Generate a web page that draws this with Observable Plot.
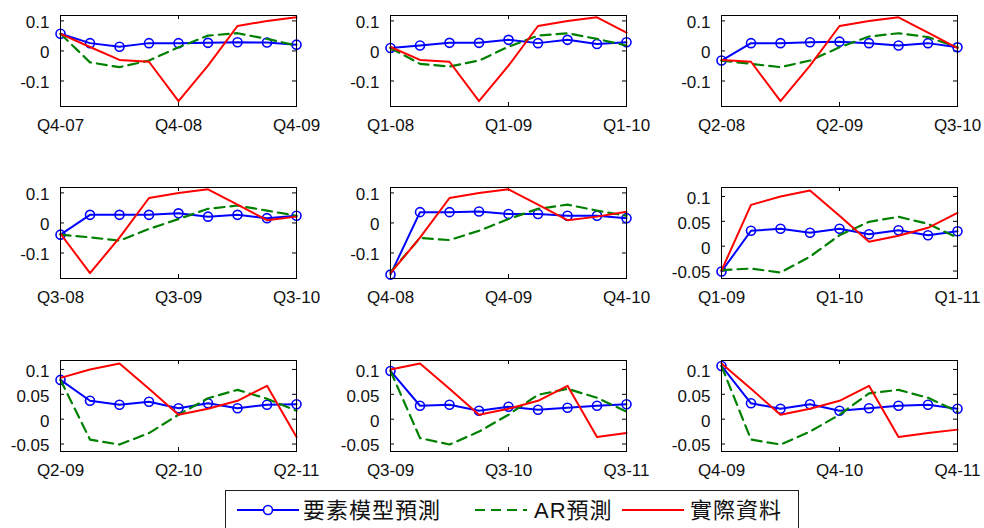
<!DOCTYPE html>
<html><head><meta charset="utf-8">
<script src="https://cdn.jsdelivr.net/npm/d3@7"></script>
<script src="https://cdn.jsdelivr.net/npm/@observablehq/plot@0.6"></script>
<style>
html,body{margin:0;padding:0;background:#fff;}
#chart{position:relative;width:984px;height:528px;overflow:hidden;background:#fff;}
#chart svg{position:absolute;}
</style></head><body><div id="chart"></div>
<script>
// Quarters covered by the actual data series
const quarters = ["Q4-07","Q1-08","Q2-08","Q3-08","Q4-08","Q1-09","Q2-09","Q3-09","Q4-09",
                  "Q1-10","Q2-10","Q3-10","Q4-10","Q1-11","Q2-11","Q3-11","Q4-11"];
// 實際資料 (actual)
const actual = [0.057, 0.013, -0.030, -0.036, -0.167, -0.049, 0.083, 0.100, 0.112,
                0.061, 0.009, 0.021, 0.037, 0.067, -0.036, -0.028, -0.021];
// first quarter index of each panel
const panelStart = [0, 1, 2, 3, 4, 5, 6, 7, 8];
// x tick labels of each panel (as printed)
const panelTickLabels = [
  ["Q4-07","Q4-08","Q4-09"], ["Q1-08","Q1-09","Q1-10"], ["Q2-08","Q2-09","Q3-10"],
  ["Q3-08","Q3-09","Q3-10"], ["Q4-08","Q4-09","Q4-10"], ["Q1-09","Q1-10","Q1-11"],
  ["Q2-09","Q2-10","Q2-11"], ["Q3-09","Q3-10","Q3-11"], ["Q4-09","Q4-10","Q4-11"]
];
// 要素模型預測 (factor model forecast), 9 quarters per panel
const factorModel = [
  [0.057, 0.026, 0.014, 0.026, 0.026, 0.027, 0.029, 0.028, 0.021],
  [0.010, 0.018, 0.027, 0.027, 0.037, 0.026, 0.037, 0.023, 0.029],
  [-0.032, 0.026, 0.026, 0.029, 0.031, 0.026, 0.018, 0.026, 0.012],
  [-0.039, 0.027, 0.027, 0.027, 0.032, 0.021, 0.027, 0.016, 0.024],
  [-0.172, 0.036, 0.036, 0.038, 0.030, 0.030, 0.024, 0.024, 0.016],
  [-0.051, 0.031, 0.035, 0.027, 0.035, 0.024, 0.032, 0.022, 0.030],
  [0.079, 0.037, 0.029, 0.035, 0.022, 0.032, 0.022, 0.029, 0.030],
  [0.097, 0.027, 0.029, 0.017, 0.025, 0.019, 0.023, 0.027, 0.030],
  [0.107, 0.032, 0.021, 0.030, 0.017, 0.022, 0.027, 0.029, 0.021]
];
// AR預測 (AR forecast)
const arModel = [
  [0.057, -0.038, -0.054, -0.032, 0.012, 0.051, 0.059, 0.040, 0.018],
  [0.010, -0.043, -0.052, -0.032, 0.014, 0.051, 0.059, 0.040, 0.018],
  [-0.032, -0.043, -0.054, -0.032, 0.012, 0.048, 0.059, 0.046, 0.012],
  [-0.039, -0.048, -0.059, -0.020, 0.013, 0.047, 0.058, 0.041, 0.024],
  [-0.164, -0.050, -0.057, -0.026, 0.013, 0.047, 0.061, 0.041, 0.024],
  [-0.048, -0.045, -0.053, -0.021, 0.022, 0.049, 0.059, 0.045, 0.017],
  [0.079, -0.041, -0.051, -0.028, 0.009, 0.042, 0.059, 0.041, 0.017],
  [0.097, -0.038, -0.051, -0.025, 0.009, 0.049, 0.061, 0.043, 0.015],
  [0.107, -0.041, -0.051, -0.025, 0.009, 0.052, 0.059, 0.043, 0.015]
];
const yDomainWide = [-0.185, 0.118];
const yDomainNarrow = [-0.065, 0.118];
const yTicksWide = [-0.1, 0, 0.1];
const yTicksNarrow = [-0.05, 0, 0.05, 0.1];
const panelNarrow = [false, false, false, false, false, true, true, true, true];

const seriesNames = ["要素模型預測", "AR預測", "實際資料"];
const seriesColors = ["#0000ff", "#008000", "#ff0000"];

// layout
const frameLeft = [60, 390, 721];
const frameTop = [15, 187, 360];
const FW = 236, FH = 91;
const M = {left: 60, right: 40, top: 10, bottom: 35};
const tickFont = '"Liberation Sans", Arial, sans-serif';
const fmtY = d => d === 0 ? "0" : String(d);

const chart = document.getElementById("chart");

for (let p = 0; p < 9; p++) {
  const row = Math.floor(p / 3), col = p % 3;
  const idx = d3.range(9);
  const fac = idx.map(i => ({i, v: factorModel[p][i]}));
  const ar = idx.map(i => ({i, v: arModel[p][i]}));
  const act = idx.map(i => ({i, v: actual[panelStart[p] + i]}));
  const yDom = panelNarrow[p] ? yDomainNarrow : yDomainWide;
  const yTicks = panelNarrow[p] ? yTicksNarrow : yTicksWide;
  const xTicks = [0, 4, 8];
  const labels = panelTickLabels[p];

  const svg = Plot.plot({
    width: FW + M.left + M.right,
    height: FH + M.top + M.bottom,
    marginLeft: M.left, marginRight: M.right, marginTop: M.top, marginBottom: M.bottom,
    style: {background: "transparent", overflow: "visible", color: "#111"},
    x: {domain: [0, 8], label: null},
    y: {domain: yDom, label: null},
    marks: [
      Plot.axisX(xTicks, {tickSize: 0, tickPadding: 12, tickFormat: i => labels[i / 4],
        fontSize: 17, fontFamily: tickFont, label: null}),
      Plot.axisY(yTicks, {tickSize: 0, tickPadding: 11, tickFormat: fmtY, dy: 2,
        fontSize: 17, fontFamily: tickFont, label: null}),
      // inward tick marks
      Plot.tickX(xTicks, {x: d => d, insetTop: FH - 4, stroke: "#000"}),
      Plot.tickX(xTicks, {x: d => d, insetBottom: FH - 4, stroke: "#000"}),
      Plot.tickY(yTicks, {y: d => d, insetRight: FW - 4, stroke: "#000"}),
      Plot.tickY(yTicks, {y: d => d, insetLeft: FW - 4, stroke: "#000"}),
      Plot.line(fac, {x: "i", y: "v", stroke: seriesColors[0], strokeWidth: 2}),
      Plot.dot(fac, {x: "i", y: "v", r: 4.5, stroke: seriesColors[0], strokeWidth: 1.6, fill: "none"}),
      Plot.line(ar, {x: "i", y: "v", stroke: seriesColors[1], strokeWidth: 2.2, strokeDasharray: "10,6"}),
      Plot.line(act, {x: "i", y: "v", stroke: seriesColors[2], strokeWidth: 2}),
      Plot.frame({stroke: "#000", strokeWidth: 1})
    ]
  });
  svg.style.left = (frameLeft[col] - M.left) + "px";
  svg.style.top = (frameTop[row] - M.top) + "px";
  chart.appendChild(svg);
}

// legend
const lg = d3.select(chart).append("svg")
  .attr("width", 984).attr("height", 528)
  .style("left", "0px").style("top", "0px");
lg.append("rect").attr("x", 225.5).attr("y", 490.5).attr("width", 573).attr("height", 60)
  .attr("fill", "white").attr("stroke", "#222").attr("stroke-width", 1);
const ly = 510;
const items = [
  {x1: 237, x2: 299, tx: 303, dash: null, marker: true},
  {x1: 475, x2: 527, tx: 534, dash: "10,6", marker: false},
  {x1: 622, x2: 684, tx: 690, dash: null, marker: false}
];
items.forEach((it, k) => {
  lg.append("line").attr("x1", it.x1).attr("x2", it.x2).attr("y1", ly).attr("y2", ly)
    .attr("stroke", seriesColors[k]).attr("stroke-width", 2)
    .attr("stroke-dasharray", it.dash);
  if (it.marker) lg.append("circle").attr("cx", (it.x1 + it.x2) / 2).attr("cy", ly).attr("r", 4.5)
    .attr("fill", "white").attr("stroke", seriesColors[k]).attr("stroke-width", 1.6);
  lg.append("text").attr("x", it.tx).attr("y", ly).attr("dy", "0.36em")
    .attr("font-family", '"Liberation Sans", "Noto Sans CJK TC", sans-serif')
    .attr("font-size", 22).attr("letter-spacing", "1px").attr("fill", "#111")
    .text(seriesNames[k]);
});
</script></body></html>
